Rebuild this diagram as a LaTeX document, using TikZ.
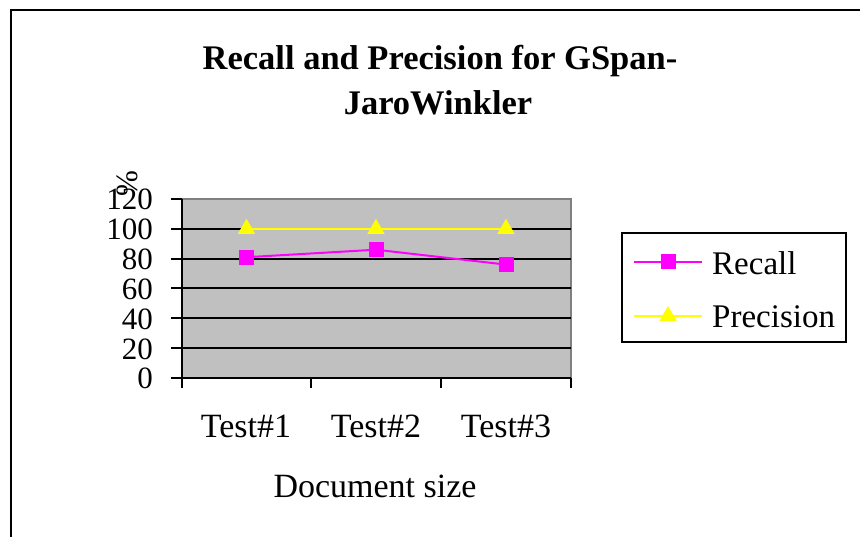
\documentclass[tikz,border=0pt]{standalone}
\usepackage{fontspec}
\setmainfont{Liberation Serif}
\usetikzlibrary{shapes.geometric}
\definecolor{plotgray}{HTML}{C0C0C0}
\definecolor{edgegray}{HTML}{808080}
\definecolor{recallc}{HTML}{FF00FF}
\definecolor{precc}{HTML}{FFFF00}
\tikzset{
  ylab/.style={anchor=base east, inner sep=0pt, font=\fontsize{31}{31}\selectfont},
  xlab/.style={anchor=base, inner sep=0pt, font=\fontsize{34}{34}\selectfont},
  leglab/.style={anchor=base west, inner sep=0pt, font=\fontsize{33}{33}\selectfont},
  titlestyle/.style={anchor=base, inner sep=0pt, font=\bfseries\fontsize{34.5}{34.5}\selectfont},
  grid line/.style={line width=2pt, black},
  sqmark/.style={rectangle, fill=recallc, minimum size=15pt, inner sep=0pt},
  trimark/.style={regular polygon, regular polygon sides=3, fill=precc, minimum size=20pt, inner sep=0pt},
  recline/.style={recallc, line width=2pt},
  precline/.style={precc, line width=2pt},
}
\begin{document}
\begin{tikzpicture}[x=1pt,y=-1pt]
\useasboundingbox (0,0) rectangle (860,537);
\fill[white] (0,0) rectangle (860,537);
% outer frame
\draw[line width=2.2pt] (11,540) -- (11,10) -- (865,10);
% title
\node[titlestyle] (t1) at (440,70) {Recall and Precision for GSpan-};
\node[titlestyle] (t2) at (438,115) {JaroWinkler};
% plot area
\fill[plotgray] (182,199) rectangle (571,378);
\draw[edgegray, line width=1.8pt] (182,199) -- (571,199) -- (571,378);
% gridlines and y ticks
\foreach \v/\yy in {20/348.2,40/318.3,60/288.5,80/258.7,100/228.8}{
  \draw[grid line] (171,\yy) -- (571,\yy);
  \node[ylab] at (153,\yy+11) {\v};
}
\draw[grid line] (171,199) -- (182,199);
\node[ylab] at (153,210) {120};
\node[ylab] at (153,389) {0};
% axes
\draw[grid line] (182,199) -- (182,388);
\draw[grid line] (171,378) -- (571,378);
\foreach \xx in {311,441,571}{ \draw[grid line] (\xx,378) -- (\xx,388); }
% axis titles
\node[rotate=90, inner sep=0pt, font=\fontsize{31}{31}\selectfont] (pct) at (127,184) {\%};
\node[xlab] (x1) at (246,438) {Test\#1};
\node[xlab] (x2) at (376,438) {Test\#2};
\node[xlab] (x3) at (506,438) {Test\#3};
\node[xlab] (xt) at (375,497) {Document size};
% data
\coordinate (r1) at (246.5,257.2);
\coordinate (r2) at (376,249.7);
\coordinate (r3) at (506,264.6);
\coordinate (p1) at (246.5,228.8);
\coordinate (p2) at (376,228.8);
\coordinate (p3) at (506,228.8);
\draw[recline] (r1) -- (r2) -- (r3);
\draw[precline] (p1) -- (p2) -- (p3);
\node[sqmark] (R1) at (r1) {};
\node[sqmark] (R2) at (r2) {};
\node[sqmark] (R3) at (r3) {};
\node[trimark] (P1) at (p1) {};
\node[trimark] (P2) at (p2) {};
\node[trimark] (P3) at (p3) {};
% legend
\draw[line width=2.2pt, fill=white] (622,233) rectangle (846,342);
\coordinate (la) at (634,262);
\coordinate (lb) at (702,262);
\coordinate (lc) at (634,316);
\coordinate (ld) at (702,316);
\draw[recline] (la) -- (lb);
\draw[precline] (lc) -- (ld);
\node[sqmark] (LR) at (668,262) {};
\node[trimark] (LP) at (668,316) {};
\node[leglab] (lrt) at (712,275) {Recall};
\node[leglab] (lpt) at (712,328) {Precision};
\end{tikzpicture}
\end{document}
